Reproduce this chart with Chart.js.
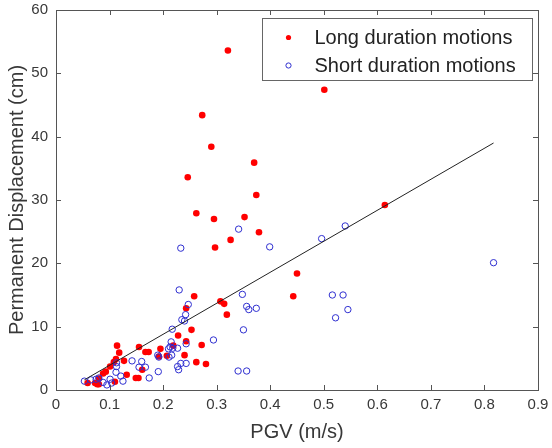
<!DOCTYPE html>
<html>
<head>
<meta charset="utf-8">
<script src="https://cdn.jsdelivr.net/npm/chart.js@4/dist/chart.umd.min.js"></script>
<style>
  html, body { margin: 0; padding: 0; background: #fff; }
</style>
</head>
<body>
<canvas id="grafico" width="552" height="448"></canvas>
<script>
// long duration motions (red dots)
const longPgv = [0.321, 0.501, 0.273, 0.290, 0.370, 0.246, 0.374, 0.614, 0.262, 0.295, 0.352, 0.379, 0.326, 0.297,
  0.450, 0.443, 0.258, 0.307, 0.314, 0.319, 0.253, 0.272, 0.262, 0.280, 0.243, 0.228, 0.243, 0.219, 0.195, 0.155,
  0.167, 0.173, 0.207, 0.192, 0.240, 0.161, 0.149, 0.154, 0.132, 0.127, 0.114, 0.118, 0.112, 0.108, 0.101, 0.093,
  0.088, 0.110, 0.073, 0.080, 0.059, 0.080, 0.077]
const longDisp = [53.6, 47.4, 43.4, 38.4, 35.9, 33.6, 30.8, 29.2, 27.9, 27.0, 27.3, 24.9, 23.7, 22.5,
  18.4, 14.8, 14.8, 14.0, 13.6, 11.9, 9.5, 7.1, 4.4, 4.1, 12.9, 8.6, 7.7, 7.0, 6.5, 6.8,
  6.0, 6.0, 5.4, 5.3, 5.5, 3.2, 1.9, 1.9, 2.4, 4.6, 7.0, 5.9, 4.9, 4.4, 3.7, 2.9,
  2.6, 1.3, 1.1, 0.9, 1.1, 1.8, 0.9]

// short duration motions (blue circles)
const shortPgv = [0.341, 0.399, 0.496, 0.540, 0.233, 0.817, 0.516, 0.536, 0.545, 0.522, 0.348, 0.356, 0.360, 0.374,
  0.350, 0.294, 0.340, 0.356, 0.230, 0.247, 0.242, 0.235, 0.240, 0.217, 0.243, 0.215, 0.213, 0.210, 0.218, 0.227,
  0.190, 0.192, 0.211, 0.216, 0.233, 0.243, 0.227, 0.229, 0.142, 0.160, 0.155, 0.167, 0.191, 0.174, 0.113, 0.113,
  0.112, 0.121, 0.101, 0.104, 0.125, 0.075, 0.088, 0.053, 0.095, 0.065, 0.080]
const shortDisp = [25.4, 22.6, 23.9, 25.9, 22.4, 20.1, 15.0, 15.0, 12.7, 11.4, 15.1, 13.2, 12.7, 12.9,
  9.5, 7.9, 3.0, 3.0, 15.8, 13.5, 11.9, 11.1, 10.9, 9.6, 7.3, 7.6, 6.8, 6.5, 6.6, 6.6,
  5.5, 5.2, 5.2, 5.5, 4.2, 4.2, 3.7, 3.2, 4.6, 4.5, 3.6, 3.6, 2.9, 1.9, 4.3, 3.7,
  2.8, 2.2, 1.7, 1.1, 1.4, 1.7, 1.2, 1.4, 0.8, 1.6, 1.9]

// linear fit
const fitPgv = [0.053, 0.817]
const fitDisp = [1.6, 39.0]

const xTicks = [0, 0.1, 0.2, 0.3, 0.4, 0.5, 0.6, 0.7, 0.8, 0.9]
const yTicks = [0, 10, 20, 30, 40, 50, 60]
const legendLabels = ['Long duration motions', 'Short duration motions']

const fonte = 'Liberation Sans, Arial, Helvetica, sans-serif'
const corTexto = '#383838'
const corEixo = '#555555'
const vermelho = '#ff0000'
const azul = '#2f2fd0'

const pares = (xs, ys) => xs.map((v, i) => ({ x: v, y: ys[i] }))

// box, inward ticks and legend, matlab style
const caixa = {
  id: 'caixa',
  afterDraw(chart) {
    const ctx = chart.ctx
    const a = chart.chartArea
    const x = chart.scales.x
    const y = chart.scales.y
    ctx.save()
    ctx.strokeStyle = corEixo
    ctx.lineWidth = 1
    ctx.strokeRect(Math.round(a.left) + 0.5, Math.round(a.top) + 0.5,
      Math.round(a.right - a.left), Math.round(a.bottom - a.top))
    ctx.beginPath()
    xTicks.forEach(v => {
      const px = Math.round(x.getPixelForValue(v)) + 0.5
      ctx.moveTo(px, a.bottom); ctx.lineTo(px, a.bottom - 5)
      ctx.moveTo(px, a.top); ctx.lineTo(px, a.top + 5)
    })
    yTicks.forEach(v => {
      const py = Math.round(y.getPixelForValue(v)) + 0.5
      ctx.moveTo(a.left, py); ctx.lineTo(a.left + 5, py)
      ctx.moveTo(a.right, py); ctx.lineTo(a.right - 5, py)
    })
    ctx.stroke()

    // legend
    const bw = 270, bh = 62
    const bx = Math.round(a.right - 6 - bw) + 0.5
    const by = Math.round(a.top + 8) + 0.5
    ctx.fillStyle = '#ffffff'
    ctx.fillRect(bx, by, bw, bh)
    ctx.strokeStyle = '#666666'
    ctx.strokeRect(bx, by, bw, bh)
    const linhas = [by + 19, by + 47]
    ctx.fillStyle = vermelho
    ctx.beginPath(); ctx.arc(bx + 26, linhas[0], 2.6, 0, Math.PI * 2); ctx.fill()
    ctx.strokeStyle = azul
    ctx.beginPath(); ctx.arc(bx + 26, linhas[1], 2.6, 0, Math.PI * 2); ctx.stroke()
    ctx.fillStyle = '#222222'
    ctx.font = '20px ' + fonte
    ctx.textBaseline = 'middle'
    ctx.textAlign = 'left'
    legendLabels.forEach((t, i) => ctx.fillText(t, bx + 52, linhas[i] + 1))
    ctx.restore()
  }
}

new Chart(document.getElementById('grafico'), {
  type: 'scatter',
  data: {
    datasets: [{
      label: 'fit',
      type: 'line',
      data: pares(fitPgv, fitDisp),
      borderColor: '#222222',
      borderWidth: 1,
      pointRadius: 0,
      fill: false,
      order: 0
    },
    {
      label: legendLabels[1],
      data: pares(shortPgv, shortDisp),
      pointStyle: 'circle',
      pointRadius: 3.2,
      borderWidth: 1,
      borderColor: azul,
      backgroundColor: 'rgba(0,0,0,0)',
      order: 1
    },
    {
      label: legendLabels[0],
      data: pares(longPgv, longDisp),
      pointStyle: 'circle',
      pointRadius: 3.3,
      borderWidth: 0,
      borderColor: vermelho,
      backgroundColor: vermelho,
      order: 2
    }]
  },
  options: {
    responsive: false,
    animation: false,
    layout: { padding: { top: 10, right: 14, left: 0, bottom: 0 } },
    plugins: { legend: { display: false }, tooltip: { enabled: false } },
    scales: {
      x: {
        type: 'linear',
        min: 0,
        max: 0.9,
        afterBuildTicks: s => { s.ticks = xTicks.map(v => ({ value: v })) },
        afterFit: s => { s.height = 58; s.paddingLeft = 0; s.paddingRight = 0 },
        grid: { display: false, drawTicks: false },
        border: { display: false },
        ticks: {
          padding: 6,
          color: corTexto,
          font: { family: fonte, size: 15 },
          callback: v => String(Number(v.toFixed(1)))
        },
        title: {
          display: true,
          text: 'PGV (m/s)',
          color: corTexto,
          font: { family: fonte, size: 20 },
          padding: { top: 0, bottom: 4 }
        }
      },
      y: {
        type: 'linear',
        min: 0,
        max: 60,
        afterBuildTicks: s => { s.ticks = yTicks.map(v => ({ value: v })) },
        afterFit: s => { s.width = 56; s.paddingTop = 0; s.paddingBottom = 0 },
        grid: { display: false, drawTicks: false },
        border: { display: false },
        ticks: {
          padding: 8,
          color: corTexto,
          font: { family: fonte, size: 15 }
        },
        title: {
          display: true,
          text: 'Permanent Displacement (cm)',
          color: corTexto,
          font: { family: fonte, size: 20 },
          padding: { top: 5, bottom: 0 }
        }
      }
    }
  },
  plugins: [caixa]
})
</script>
</body>
</html>
